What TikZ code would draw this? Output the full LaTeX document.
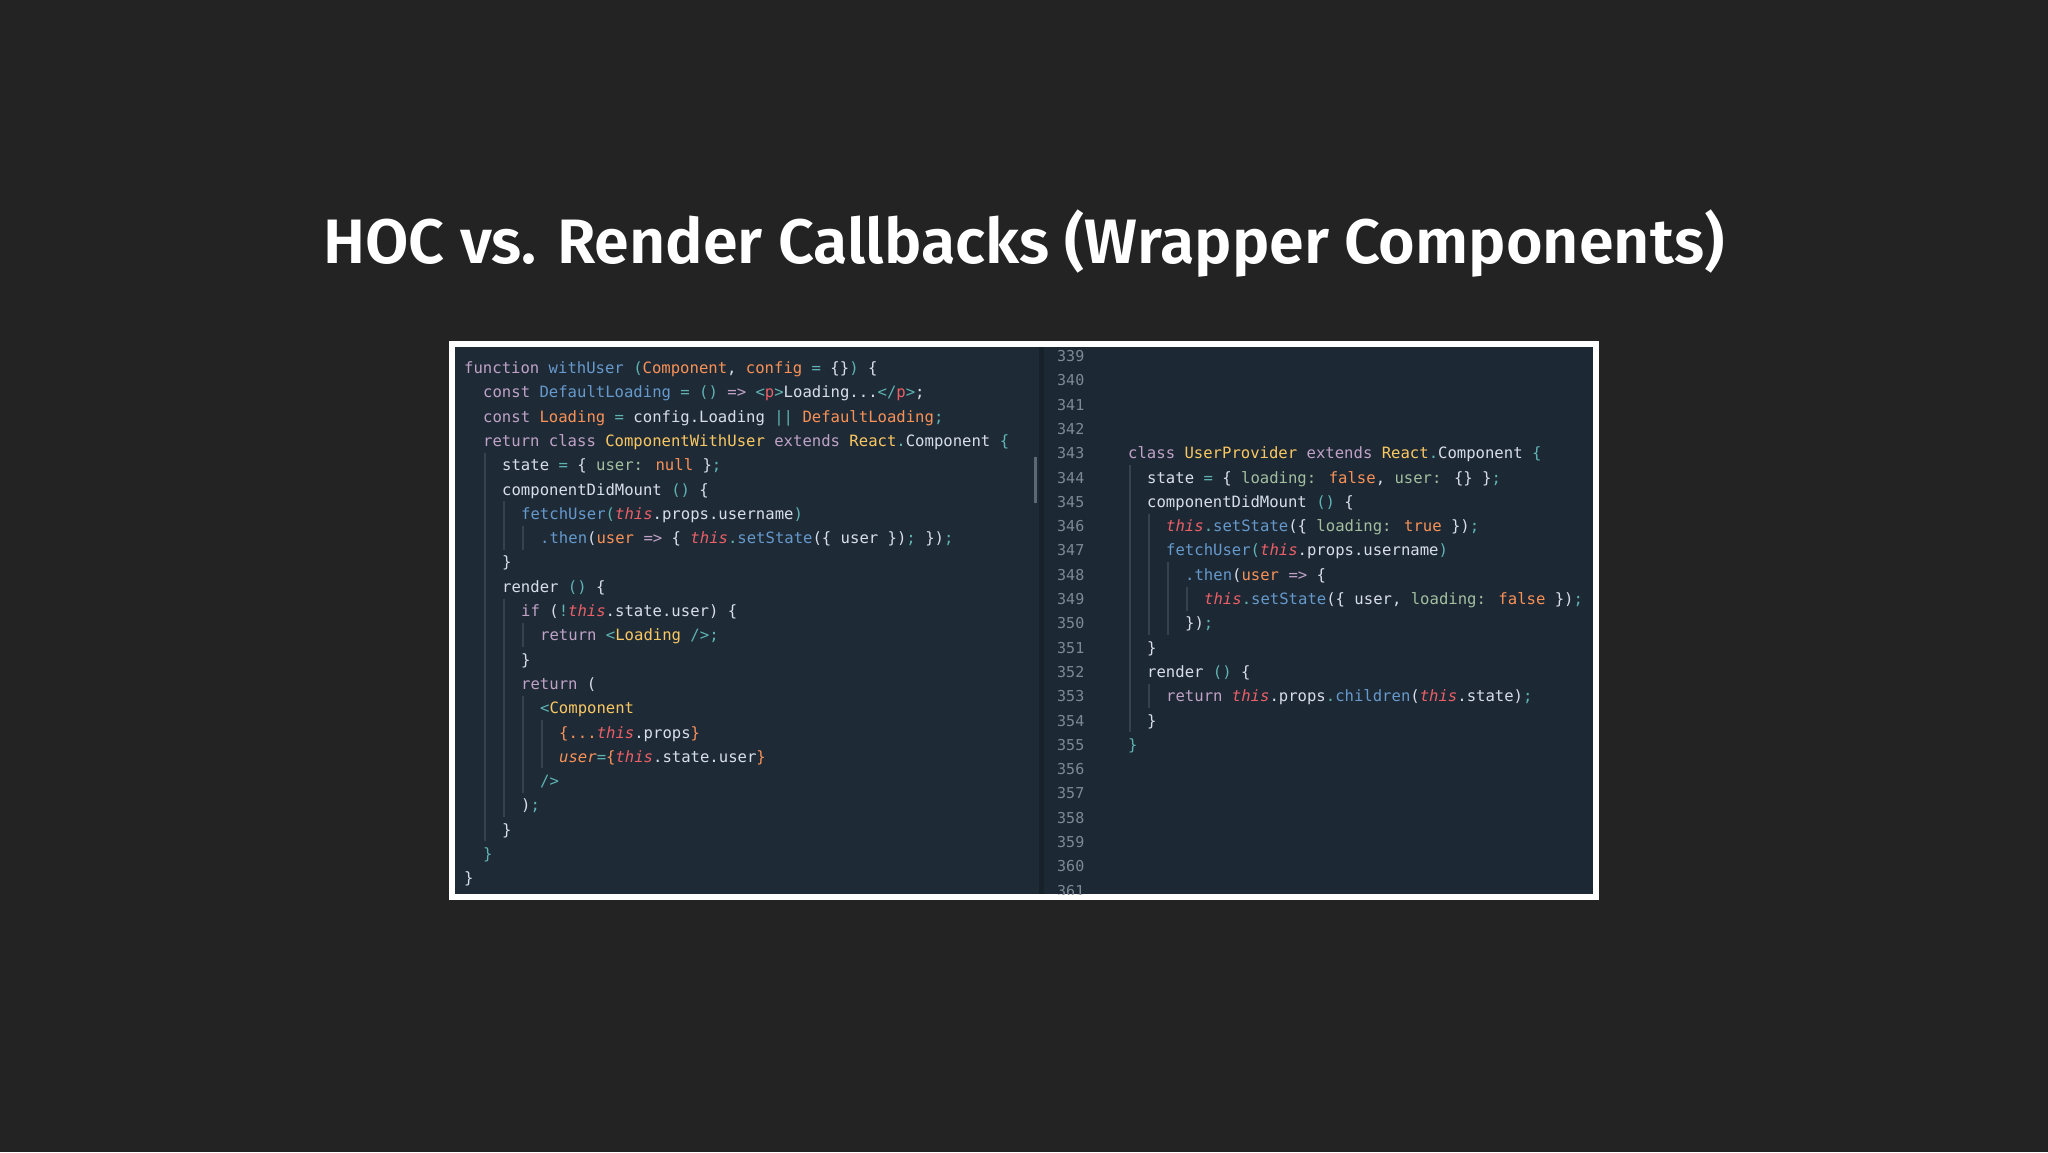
\documentclass[tikz,border=0pt]{standalone}
\usepackage{fontspec}
\setmainfont{Fira Sans}
\newfontfamily\codefam{DejaVu Sans Mono}
\definecolor{bg}{HTML}{232323}
\definecolor{pl}{HTML}{1E2B36}
\definecolor{pr}{HTML}{1C2833}
\definecolor{dv}{HTML}{16212A}
\definecolor{fg}{HTML}{D8DEE9}
\definecolor{kw}{HTML}{C0A2C7}
\definecolor{fn}{HTML}{6699CC}
\definecolor{pa}{HTML}{F99157}
\definecolor{cl}{HTML}{FAC863}
\definecolor{pu}{HTML}{5FB3B3}
\definecolor{th}{HTML}{EC5F67}
\definecolor{ke}{HTML}{A3BFA0}
\definecolor{ln}{HTML}{7D8A94}
\definecolor{gd}{HTML}{34434F}
\newcommand\Kw[1]{\textcolor{kw}{#1}}
\newcommand\Fn[1]{\textcolor{fn}{#1}}
\newcommand\Pa[1]{\textcolor{pa}{#1}}
\newcommand\Cl[1]{\textcolor{cl}{#1}}
\newcommand\Pu[1]{\textcolor{pu}{#1}}
\newcommand\Th{\textcolor{th}{\itshape this}}
\newcommand\Ke[1]{\textcolor{ke}{#1}}
\newcommand\Tg[1]{\textcolor{th}{#1}}
\newcommand\Lx[4]{\node[code] (#1) at ({464+19*#2},{373.5+24.3*#3}) {#4};}
\newcommand\Rx[4]{\node[code] (#1) at ({1128+19*#2},{361.5+24.3*#3}) {#4};}
\newcommand\Lg[3]{\draw[guide] ({466+19*#1},{373.5+24.3*#2-18}) -- ({466+19*#1},{373.5+24.3*#3+6});}
\newcommand\Rg[3]{\draw[guide] ({1130+19*#1},{361.5+24.3*#2-18}) -- ({1130+19*#1},{361.5+24.3*#3+6});}
\begin{document}
\begin{tikzpicture}[x=1pt,y=-1pt,
  code/.style={anchor=base west,inner sep=0pt,text=fg,font=\codefam\fontsize{15.6}{18}\selectfont},
  lnum/.style={anchor=base west,inner sep=0pt,text=ln,font=\codefam\fontsize{15}{18}\selectfont},
  guide/.style={draw=gd,line width=1.2pt}]
\useasboundingbox (0,0) rectangle (2048,1152);
\fill[bg] (0,0) rectangle (2048,1152);
\node[text=white,font=\fontspec{Fira Sans SemiBold}\fontsize{62.8}{66}\selectfont] (title) at (1024,244) {HOC vs. Render Callbacks (Wrapper Components)};
\fill[white] (449,341) rectangle (1599,900);
\fill[pl] (455,347) rectangle (1041,894);
\fill[dv] (1039,347) rectangle (1044,894);
\fill[pr] (1044,347) rectangle (1593,894);
\fill[gd!80!white] (1034,457) rectangle (1037,503);
% left guides
\Lg{1}{4}{19}
\Lg{2}{6}{7}
\Lg{2}{10}{18}
\Lg{3}{7}{7}
\Lg{3}{11}{11}
\Lg{3}{14}{17}
\Lg{4}{15}{16}
% left code
\Lx{l1}{0}{0}{\Kw{function} \Fn{withUser} \Pu{(}\Pa{Component}, \Pa{config} \Pu{=} \{\}\Pu{)} \{}
\Lx{l2}{1}{1}{\Kw{const} \Fn{DefaultLoading} \Pu{=} \Pu{()} \Kw{=>} \Pu{<}\Tg{p}\Pu{>}Loading...\Pu{</}\Tg{p}\Pu{>};}
\Lx{l3}{1}{2}{\Kw{const} \Pa{Loading} \Pu{=} config.Loading \Pu{||} \Pa{DefaultLoading}\Pu{;}}
\Lx{l4}{1}{3}{\Kw{return} \Kw{class} \Cl{ComponentWithUser} \Kw{extends} \Cl{React}\Pu{.}Component \Pu{\{}}
\Lx{l5}{2}{4}{state \Pu{=} \{ \Ke{user:} \Pa{null} \}\Pu{;}}
\Lx{l6}{2}{5}{componentDidMount \Pu{()} \{}
\Lx{l7}{3}{6}{\Fn{fetchUser}\Pu{(}\Th.props.username\Pu{)}}
\Lx{l8}{4}{7}{\Fn{.then}(\Pa{user} \Kw{=>} \{ \Th\Pu{.}\Fn{setState}(\{ user \})\Pu{;} \})\Pu{;}}
\Lx{l9}{2}{8}{\}}
\Lx{l10}{2}{9}{render \Pu{()} \{}
\Lx{l11}{3}{10}{\Kw{if} (\Pu{!}\Th.state.user) \{}
\Lx{l12}{4}{11}{\Kw{return} \Pu{<}\Cl{Loading} \Pu{/>;}}
\Lx{l13}{3}{12}{\}}
\Lx{l14}{3}{13}{\Kw{return} (}
\Lx{l15}{4}{14}{\Pu{<}\Cl{Component}}
\Lx{l16}{5}{15}{\Pa{\{...}\Th.props\Pa{\}}}
\Lx{l17}{5}{16}{\textcolor{pa}{\itshape user}\Pu{=}\Pa{\{}\Th.state.user\Pa{\}}}
\Lx{l18}{4}{17}{\Pu{/>}}
\Lx{l19}{3}{18}{)\Pu{;}}
\Lx{l20}{2}{19}{\}}
\Lx{l21}{1}{20}{\Pu{\}}}
\Lx{l22}{0}{21}{\}}
% right side
\begin{scope}
\clip (1044,347) rectangle (1593,894);
\foreach \n [count=\i from 0] in {339,...,361}
  \node[lnum] (n\n) at (1057,{361.5+24.3*\i}) {\n};
\Rg{0}{5}{15}
\Rg{1}{7}{11}
\Rg{1}{14}{14}
\Rg{2}{9}{11}
\Rg{3}{10}{10}
\Rx{r343}{0}{4}{\Kw{class} \Cl{UserProvider} \Kw{extends} \Cl{React}\Pu{.}Component \Pu{\{}}
\Rx{r344}{1}{5}{state \Pu{=} \{ \Ke{loading:} \Pa{false}, \Ke{user:} \{\} \}\Pu{;}}
\Rx{r345}{1}{6}{componentDidMount \Pu{()} \{}
\Rx{r346}{2}{7}{\Th\Pu{.}\Fn{setState}(\{ \Ke{loading:} \Pa{true} \})\Pu{;}}
\Rx{r347}{2}{8}{\Fn{fetchUser}\Pu{(}\Th.props.username\Pu{)}}
\Rx{r348}{3}{9}{\Fn{.then}(\Pa{user} \Kw{=>} \{}
\Rx{r349}{4}{10}{\Th\Pu{.}\Fn{setState}(\{ user, \Ke{loading:} \Pa{false} \})\Pu{;}}
\Rx{r350}{3}{11}{\})\Pu{;}}
\Rx{r351}{1}{12}{\}}
\Rx{r352}{1}{13}{render \Pu{()} \{}
\Rx{r353}{2}{14}{\Kw{return} \Th.props\Pu{.}\Fn{children}(\Th.state)\Pu{;}}
\Rx{r354}{1}{15}{\}}
\Rx{r355}{0}{16}{\Pu{\}}}
\end{scope}
\end{tikzpicture}
\end{document}
